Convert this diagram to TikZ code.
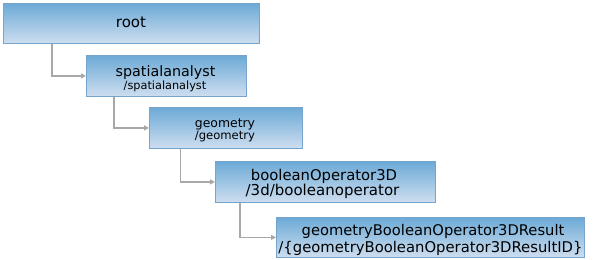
\documentclass[tikz,border=0pt]{standalone}
\usepackage{fontspec}
\setmainfont{DejaVu Sans}
\usetikzlibrary{arrows.meta}
\definecolor{boxtop}{RGB}{108,170,214}
\definecolor{boxbot}{RGB}{206,222,240}
\definecolor{boxline}{RGB}{118,164,204}
\definecolor{conncol}{RGB}{168,168,168}
\tikzset{
  box/.style={rectangle, draw=boxline, line width=0.8bp, top color=boxtop, bottom color=boxbot,
    anchor=north west, inner sep=0pt},
  conn/.style={draw=conncol, line width=1.3bp, -{Triangle[length=5bp,width=5bp]}},
  txt/.style={anchor=base, inner sep=0pt, text=black},
}
\newcommand{\fs}[1]{\fontsize{#1bp}{#1bp}\selectfont}
\begin{document}
\begin{tikzpicture}[x=1bp,y=-1bp]
\useasboundingbox (0,0) rectangle (597,259);
\node[box, minimum width=256bp, minimum height=40bp] (root) at (3,3) {};
\node[box, minimum width=159.5bp, minimum height=41bp] (sa) at (86,55) {};
\node[box, minimum width=153bp, minimum height=41bp] (geo) at (149,107) {};
\node[box, minimum width=220bp, minimum height=41bp] (bo) at (215,161) {};
\node[box, minimum width=308bp, minimum height=40bp] (res) at (276,217) {};

\node[txt, font=\fs{15}] (t0) at (131,27.5) {root};
\node[txt, font=\fs{14.3}] (t1) at (165.5,76) {spatialanalyst};
\node[txt, font=\fs{11.3}] (t1b) at (165,89.5) {/spatialanalyst};
\node[txt, font=\fs{12.4}] (t2) at (225,127.3) {geometry};
\node[txt, font=\fs{11.6}] (t2b) at (225,139.5) {/geometry};
\node[txt, font=\fs{14.8}] (t3) at (324,180) {booleanOperator3D};
\node[txt, font=\fs{15}] (t3b) at (322.5,195.7) {/3d/booleanoperator};
\node[txt, font=\fs{14.7}] (t4) at (433,235) {geometryBooleanOperator3DResult};
\node[txt, font=\fs{14.8}] (t4b) at (430.5,252.5) {/\{geometryBooleanOperator3DResultID\}};

\draw[conn] ([xshift=49bp]root.south west) |- (sa.west);
\draw[conn] ([xshift=28bp]sa.south west) |- (geo.west);
\draw[conn] ([xshift=31.7bp]geo.south west) |- (bo.west);
\draw[conn] ([xshift=25bp]bo.south west) |- (res.west);
\end{tikzpicture}
\end{document}
